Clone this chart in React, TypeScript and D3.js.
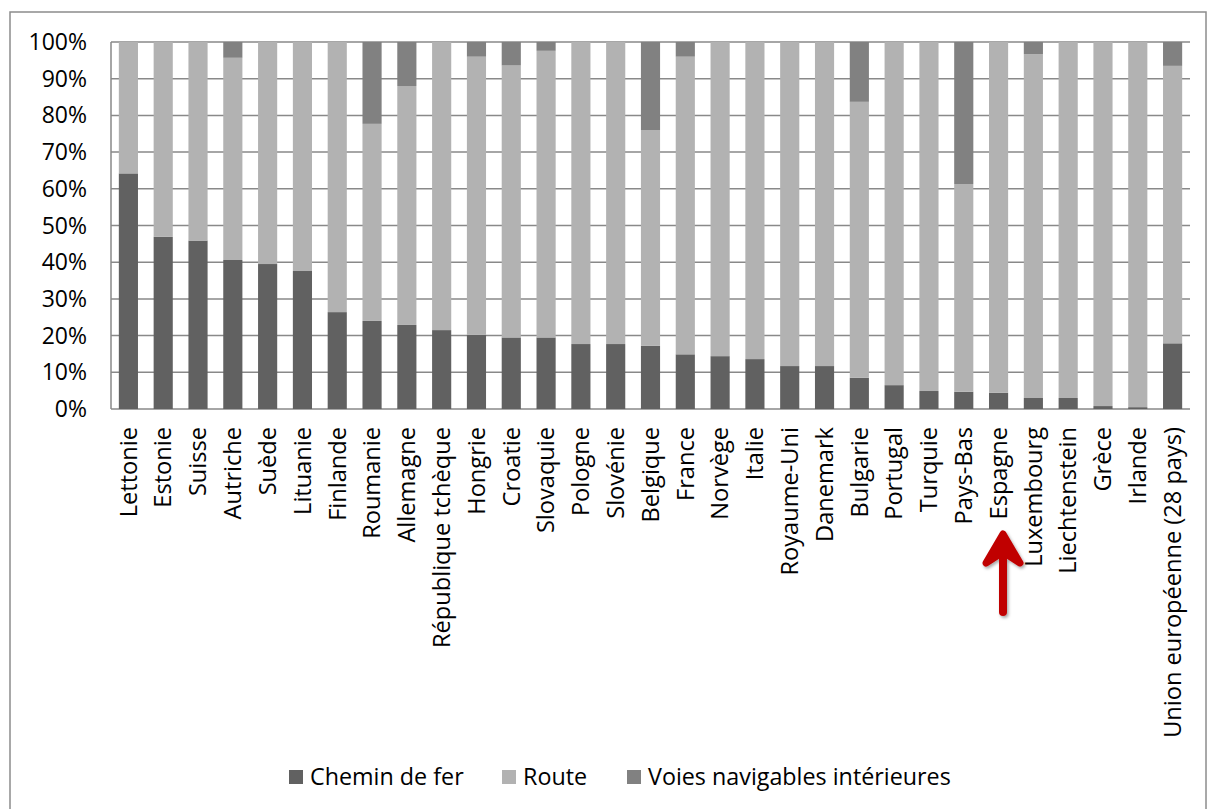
import React from 'react';
import * as d3 from 'd3';

// Part modale du fret intérieur (%) - lecture du graphique
const countries = [
  "Lettonie", "Estonie", "Suisse", "Autriche", "Suède", "Lituanie", "Finlande",
  "Roumanie", "Allemagne", "République tchèque", "Hongrie", "Croatie", "Slovaquie",
  "Pologne", "Slovénie", "Belgique", "France", "Norvège", "Italie", "Royaume-Uni",
  "Danemark", "Bulgarie", "Portugal", "Turquie", "Pays-Bas", "Espagne", "Luxembourg",
  "Liechtenstein", "Grèce", "Irlande", "Union européenne (28 pays)",
];
const rail = [
  64.2, 46.9, 45.9, 40.6, 39.5, 37.6, 26.4, 24.0, 22.9, 21.5, 20.2, 19.5, 19.5,
  17.7, 17.7, 17.2, 14.9, 14.4, 13.6, 11.7, 11.7, 8.5, 6.5, 4.9, 4.7, 4.4, 3.0,
  3.0, 0.8, 0.5, 17.9,
];
const road = [
  35.8, 53.1, 54.1, 55.1, 60.5, 62.4, 73.6, 53.7, 65.1, 78.5, 75.8, 74.1, 78.1,
  82.3, 82.3, 58.8, 81.1, 85.6, 86.4, 88.3, 88.3, 75.2, 93.5, 95.1, 56.6, 95.6, 93.7,
  97.0, 99.2, 99.5, 75.6,
];
const waterways = [
  0, 0, 0, 4.3, 0, 0, 0, 22.3, 12.0, 0, 4.0, 6.4, 2.4, 0, 0, 24.0, 4.0, 0, 0, 0,
  0, 16.3, 0, 0, 38.7, 0, 3.3, 0, 0, 0, 6.5,
];
const seriesKeys = ["rail", "road", "water"];
const seriesNames = ["Chemin de fer", "Route", "Voies navigables intérieures"];
const seriesColors = ["#616161", "#b2b2b2", "#818181"];
const yTicks = [0, 10, 20, 30, 40, 50, 60, 70, 80, 90, 100];

const W = 1208;
const H = 809;
const FONT = "'Open Sans', sans-serif";

export default function App() {
  const rows = countries.map((c, i) => ({ country: c, rail: rail[i], road: road[i], water: waterways[i] }));
  const stacked = d3.stack<any>().keys(seriesKeys)(rows);

  const x = d3.scaleBand().domain(countries).range([111, 1190]).paddingInner(0.45).paddingOuter(0.225);
  const y = d3.scaleLinear().domain([0, 100]).range([409, 42]);

  const legendX = [289, 502, 627];
  const arrowX = 1003;

  return (
    <svg width={W} height={H} style={{ position: 'absolute', left: 0, top: 0, background: '#fff' }} fontFamily={FONT}>
      <defs>
        <filter id="shadow" x="-50%" y="-50%" width="200%" height="200%">
          <feDropShadow dx="1.5" dy="2" stdDeviation="1.5" floodColor="#000" floodOpacity="0.35" />
        </filter>
      </defs>
      {/* cadre */}
      <rect x={10} y={12} width={1196} height={830} fill="#fff" stroke="#8c8c8c" strokeWidth={1.5} />

      {/* grille */}
      {yTicks.map((t) => (
        <line key={t} x1={111} x2={1190} y1={y(t)} y2={y(t)} stroke="#898989" strokeWidth={1.5} />
      ))}
      <line x1={111} x2={111} y1={y(100)} y2={y(0)} stroke="#898989" strokeWidth={1.5} />

      {/* barres */}
      {stacked.map((s, si) => (
        <g key={s.key} fill={seriesColors[si]}>
          {s.map((d, i) => (
            <rect key={i} x={x(countries[i])} width={x.bandwidth()} y={y(d[1])} height={Math.max(0, y(d[0]) - y(d[1]))} />
          ))}
        </g>
      ))}

      {/* axe Y */}
      {yTicks.map((t) => (
        <text key={t} x={87} y={y(t)} dy="0.35em" textAnchor="end" fontSize={23} fill="#000">{`${t}%`}</text>
      ))}

      {/* axe X */}
      {countries.map((c) => (
        <text
          key={c}
          transform={`translate(${(x(c) as number) + x.bandwidth() / 2},427) rotate(-90)`}
          dy="0.35em"
          textAnchor="end"
          fontSize={23.6}
          fill="#000"
        >{c}</text>
      ))}

      {/* légende */}
      {seriesNames.map((n, i) => (
        <g key={n}>
          <rect x={legendX[i]} y={770} width={14} height={14} fill={seriesColors[i]} />
          <text x={legendX[i] + 21} y={777} dy="0.35em" fontSize={23.3} fill="#000">{n}</text>
        </g>
      ))}

      {/* flèche rouge */}
      <g filter="url(#shadow)" stroke="#c00000" fill="#c00000" strokeLinejoin="round" strokeLinecap="round">
        <line x1={arrowX} x2={arrowX} y1={612} y2={545} strokeWidth={8} />
        <path d={`M${arrowX},534 L${arrowX + 17},563 L${arrowX},552 L${arrowX - 17},563 Z`} strokeWidth={7} />
      </g>
    </svg>
  );
}
